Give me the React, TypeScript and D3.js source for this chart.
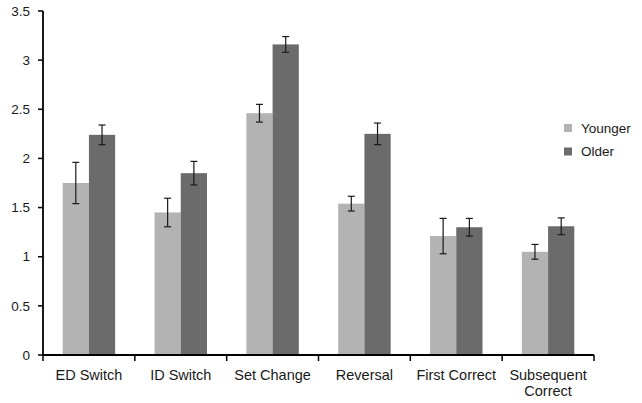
import React from "react";
import * as d3 from "d3";

const categories = ["ED Switch", "ID Switch", "Set Change", "Reversal", "First Correct", "Subsequent\nCorrect"];
const seriesNames = ["Younger", "Older"];
const younger = [1.75, 1.45, 2.46, 1.54, 1.21, 1.05];
const older = [2.24, 1.85, 3.16, 2.25, 1.3, 1.31];
const youngerErr = [0.21, 0.145, 0.09, 0.075, 0.18, 0.075];
const olderErr = [0.1, 0.12, 0.08, 0.11, 0.09, 0.085];
const yTicks = [0, 0.5, 1, 1.5, 2, 2.5, 3, 3.5];

const colors = ["#b3b3b3", "#6b6b6b"];
const W = 642, H = 403;
const left = 43, right = 594, top = 11, bottom = 355;
const font = "'Liberation Sans', Arial, sans-serif";

export default function App() {
  const x = d3.scaleBand<string>().domain(categories).range([left, right]).paddingInner(0).paddingOuter(0);
  const y = d3.scaleLinear().domain([0, 3.5]).range([bottom, top]);
  const inner = d3.scaleBand<string>().domain(seriesNames).range([0, x.bandwidth()]).paddingInner(0).paddingOuter(0.75);
  const values = [younger, older];
  const errs = [youngerErr, olderErr];
  const boundaries = d3.range(categories.length + 1).map(i => left + i * x.step());

  return (
    <svg width={W} height={H} style={{ position: "absolute", left: 0, top: 0, background: "#fff" }} fontFamily={font}>
      {categories.map((c, i) =>
        seriesNames.map((s, k) => {
          const v = values[k][i];
          const bx = (x(c) as number) + (inner(s) as number);
          return (
            <rect key={c + s} x={bx} y={y(v)} width={inner.bandwidth()} height={y(0) - y(v)} fill={colors[k]} />
          );
        })
      )}
      {categories.map((c, i) =>
        seriesNames.map((s, k) => {
          const v = values[k][i];
          const e = errs[k][i];
          const cx = (x(c) as number) + (inner(s) as number) + inner.bandwidth() / 2;
          return (
            <g key={"e" + c + s} stroke="#1a1a1a" strokeWidth={1.2}>
              <line x1={cx} x2={cx} y1={y(v + e)} y2={y(v - e)} />
              <line x1={cx - 3.5} x2={cx + 3.5} y1={y(v + e)} y2={y(v + e)} />
              <line x1={cx - 3.5} x2={cx + 3.5} y1={y(v - e)} y2={y(v - e)} />
            </g>
          );
        })
      )}
      <line x1={left} x2={left} y1={y(3.5)} y2={bottom} stroke="#000" strokeWidth={1.8} />
      {yTicks.map(t => (
        <g key={"yt" + t}>
          <line x1={left - 5} x2={left} y1={y(t)} y2={y(t)} stroke="#000" strokeWidth={1.5} />
          <text x={30} y={y(t)} dy="0.35em" textAnchor="end" fontSize={13.5} fill="#1a1a1a">{t}</text>
        </g>
      ))}
      <line x1={left} x2={right} y1={bottom} y2={bottom} stroke="#000" strokeWidth={1.8} />
      {boundaries.map((b, i) => (
        <line key={"xt" + i} x1={b} x2={b} y1={bottom} y2={bottom + 6} stroke="#000" strokeWidth={1.5} />
      ))}
      {categories.map(c => {
        const lines = c.split("\n");
        const cx = (x(c) as number) + x.bandwidth() / 2;
        return (
          <text key={"xl" + c} x={cx} y={379.5} textAnchor="middle" fontSize={14.5} fill="#1a1a1a">
            {lines.map((l, j) => (
              <tspan key={j} x={cx} dy={j === 0 ? 0 : 16.5}>{l}</tspan>
            ))}
          </text>
        );
      })}
      {seriesNames.map((s, k) => (
        <g key={"lg" + s}>
          <rect x={564} y={124 + k * 23.5} width={8} height={8} fill={colors[k]} />
          <text x={581} y={128 + k * 23.5} dy="0.35em" fontSize={13.5} fill="#1a1a1a">{s}</text>
        </g>
      ))}
    </svg>
  );
}
